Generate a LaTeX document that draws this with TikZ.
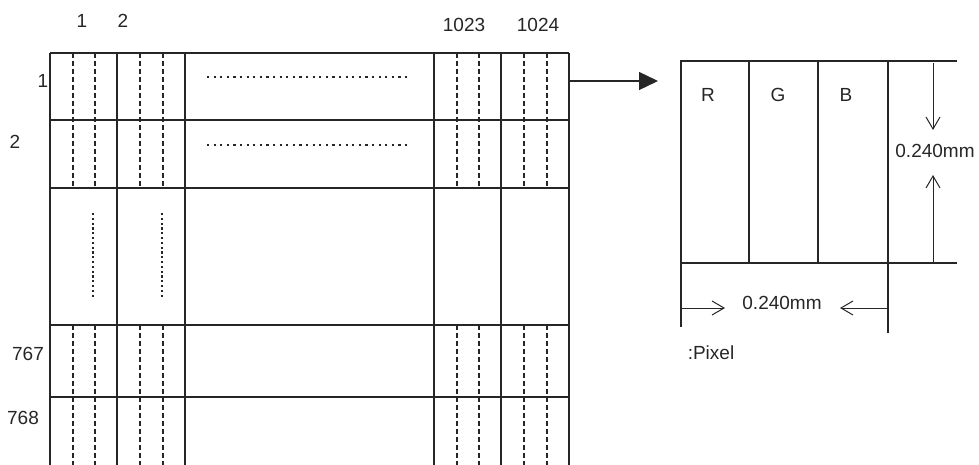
\documentclass[tikz,border=0pt]{standalone}
\usepackage{fontspec}
\setmainfont{Liberation Sans}
\usetikzlibrary{arrows.meta}
\begin{document}
\begin{tikzpicture}[x=1pt,y=-1pt,
  gridln/.style={line width=1.1pt, black!85},
  dashln/.style={line width=1.1pt, dash pattern=on 5pt off 3pt, black!85},
  dothz/.style={line width=2.4pt, dash pattern=on 2.2pt off 4.4pt, black!85},
  dotvt/.style={line width=2.4pt, dash pattern=on 2.2pt off 2.6pt, black!85},
  lbl/.style={font=\fontsize{19}{22}\selectfont, inner sep=0pt, text=black!85},
  dimarrow/.style={line width=1pt, black!85, -{Straight Barb[length=12pt,width=14pt]}}]
\useasboundingbox (0,0) rectangle (979,465);

% grid
\foreach \x in {50,117,185,434,501,569} \draw[gridln] (\x,53) -- (\x,465);
\foreach \y in {53,120,188,325,397} \draw[gridln] (50,\y) -- (569,\y);
\foreach \x in {73,95,140,163,457,479,524,547} {
  \draw[dashln] (\x,53) -- (\x,188);
  \draw[dashln] (\x,325) -- (\x,465);
}
\draw[dothz] (207,77) -- (411,77);
\draw[dothz] (207,145) -- (411,145);
\draw[dotvt] (93,213) -- (93,299);
\draw[dotvt] (162,213) -- (162,299);

% labels of grid
\node[lbl] (c1) at (82,21) {1};
\node[lbl] (c2) at (123,21) {2};
\node[lbl] (c1023) at (464,25) {1023};
\node[lbl] (c1024) at (538,25) {1024};
\node[lbl] (r1) at (43,81) {1};
\node[lbl] (r2) at (15,142) {2};
\node[lbl] (r767) at (28,354) {767};
\node[lbl] (r768) at (23,418) {768};

% arrow to pixel
\coordinate (gout) at (569,81);
\coordinate (gin) at (658,81);
\draw[line width=1.3pt, black!85, -{Triangle[length=19pt,width=18pt]}] (gout) -- (gin);

% pixel box
\coordinate (pnw) at (681,61);
\coordinate (pne) at (888,61);
\coordinate (psw) at (681,263);
\coordinate (pse) at (888,263);
\draw[gridln] (pnw) rectangle (pse);
\draw[gridln] (749,61) -- (749,263);
\draw[gridln] (818,61) -- (818,263);
\draw[gridln] (pne) -- (957,61);
\draw[gridln] (pse) -- (957,263);
\draw[gridln] (psw) -- (681,327);
\draw[gridln] (pse) -- (888,333);

\node[lbl] (R) at (708,95) {R};
\node[lbl] (G) at (778,95) {G};
\node[lbl] (B) at (846,95) {B};

\draw[dimarrow] (933,63) -- (933,130);
\draw[dimarrow] (933,263) -- (933,175);
\node[lbl] (hdim) at (935,151) {0.240mm};
\draw[dimarrow] (681,308) -- (725,308);
\draw[dimarrow] (888,308) -- (840,308);
\node[lbl] (wdim) at (782,303) {0.240mm};

\node[lbl] (pixlbl) at (711,353) {:Pixel};
\end{tikzpicture}
\end{document}
